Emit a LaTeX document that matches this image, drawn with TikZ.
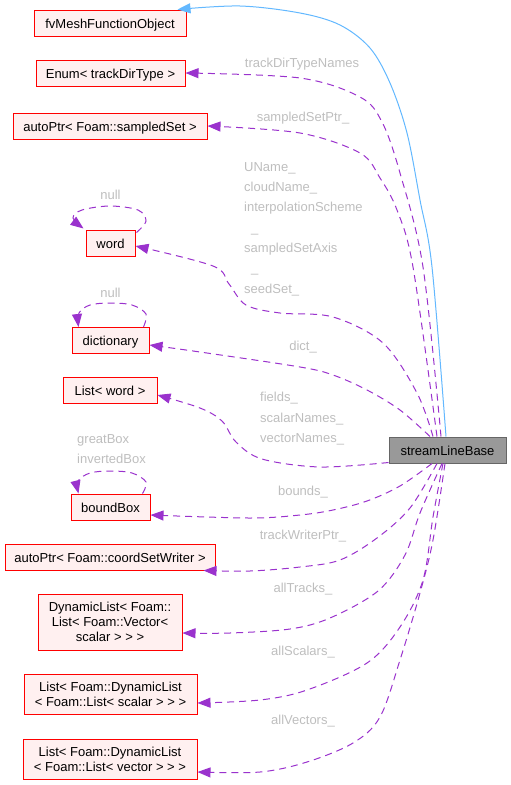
\documentclass[tikz,border=0pt]{standalone}
\usepackage{fontspec}
\setmainfont{Liberation Sans}
\usetikzlibrary{arrows.meta}
\definecolor{edgepurple}{HTML}{9A32CD}
\definecolor{inhblue}{HTML}{63B8FF}
\definecolor{lblgray}{HTML}{BEBEBE}
\definecolor{boxfill}{HTML}{FFF0F0}
\definecolor{boxred}{HTML}{FF0000}
\definecolor{mainfill}{HTML}{999999}
\definecolor{mainborder}{HTML}{666666}
\begin{document}
\begin{tikzpicture}[x=1pt,y=-1pt,
  cls/.style={draw=boxred, fill=boxfill, line width=1pt, inner sep=0pt,
    font=\fontsize{13}{15}\selectfont, align=center, minimum height=26pt},
  one/.style={text height=10pt, text depth=0pt},
  mainbox/.style={draw=mainborder, fill=mainfill, line width=1pt, inner sep=0pt,
    font=\fontsize{13}{15}\selectfont, minimum height=26pt},
  member/.style={edgepurple, line width=1pt, dash pattern=on 7pt off 5pt,
    -{Triangle[length=13pt,width=10pt]}},
  inherit/.style={inhblue, line width=1pt, -{Triangle[length=13pt,width=10pt]}},
  lbl/.style={text=lblgray, font=\fontsize{13}{20.3}\selectfont, inner sep=0pt},
  sm/.style={smooth, tension=0.55},
]
\useasboundingbox (0,0) rectangle (511,785);

% class nodes
\node[cls,one,minimum width=152pt] (fv)   at (110,23)    {fvMeshFunctionObject};
\node[cls,one,minimum width=149pt] (enum) at (110.5,73)  {Enum< trackDirType >};
\node[cls,one,minimum width=194pt] (ssp)  at (110,126)   {autoPtr< Foam::sampledSet >};
\node[cls,one,minimum width=49pt]  (word) at (110.5,243) {word};
\node[cls,one,minimum width=77pt]  (dict) at (110.5,340.5) {dictionary};
\node[cls,one,minimum width=94pt]  (lw)   at (110,390)   {List< word >};
\node[cls,one,minimum width=79pt]  (bb)   at (110.5,507) {boundBox};
\node[cls,one,minimum width=210pt] (csw)  at (110,557)   {autoPtr< Foam::coordSetWriter >};
\node[cls,minimum width=144pt,minimum height=56pt] (dyn) at (110,622)
  {DynamicList< Foam::\\List< Foam::Vector<\\scalar > > >};
\node[cls,minimum width=173pt,minimum height=40pt] (lsc) at (110.5,694)
  {List< Foam::DynamicList\\< Foam::List< scalar > > >};
\node[cls,minimum width=174pt,minimum height=40pt] (lvec) at (110,759)
  {List< Foam::DynamicList\\< Foam::List< vector > > >};
\node[mainbox,one,minimum width=117pt] (slb) at (447.5,450) {streamLineBase};

% inheritance
\draw[inherit] plot[sm] coordinates {([xshift=-1.5pt]slb.north) (432,267) (420,200) (407,133)
  (390,83) (370,48) (340,25) (300,13) (240,6) ([xshift=-9pt]fv.north east)};

% members above
\draw[member] plot[sm] coordinates {([xshift=-6.5pt]slb.north) (423,267) (400,173) (382,122)
  (360,97) (300,78) (enum.east)};
\draw[member] plot[sm] coordinates {([xshift=-10.5pt]slb.north) (413,267) (397,210) (380,178)
  (360,153) (300,133) (ssp.east)};
\draw[member] plot[sm] coordinates {([xshift=-14.5pt]slb.north) (417,393) (383,343)
  (333,317) (280,313) (246,305) (229,284) (213,266) ([yshift=-3pt]word.east)};
\draw[member] plot[sm] coordinates {([xshift=-17.5pt]slb.north) (400,410) (367,390) (333,375)
  (300,367) (200,352) ([yshift=-4.5pt]dict.east)};
\draw[member] plot[sm] coordinates {([yshift=1pt]slb.south west) (320,467) (262,459)
  (236,442) (222,421) (200,408) ([yshift=-5pt]lw.east)};

% members below
\draw[member] plot[sm] coordinates {([xshift=-15.5pt]slb.south) (400,486) (367,501) (333,510)
  (300,515) (250,518) ([yshift=-8pt]bb.east)};
\draw[member] plot[sm] coordinates {([xshift=-10.5pt]slb.south) (410,508) (377,538) (340,560)
  (300,567) (250,571) ([xshift=-12pt]csw.south east)};
\draw[member] plot[sm] coordinates {([xshift=-5.5pt]slb.south) (420,513) (405,555) (378,591)
  (330,618) (290,629) (230,633) ([yshift=-11pt]dyn.east)};
\draw[member] plot[sm] coordinates {([xshift=-4.5pt]slb.south) (433,517) (423,580) (400,627)
  (367,663) (307,690) (260,700) ([yshift=-9pt]lsc.east)};
\draw[member] plot[sm] coordinates {([xshift=-2.5pt]slb.south) (433,540) (420,593) (400,660)
  (380,717) (353,743) (307,762) (260,772) ([yshift=-13pt]lvec.east)};

% self loops
\draw[member] plot[sm] coordinates {([xshift=1pt,yshift=-3pt]word.north east) (146,221) (138,210)
  (110,206) (82,210) (73,218) ([xshift=-2pt,yshift=1pt]word.north west)};
\draw[member] plot[sm] coordinates {([xshift=-6pt]dict.north east) (146,314) (132,305)
  (110,303) (90,305) (79,313) ([xshift=7pt]dict.north west)};
\draw[member] plot[sm] coordinates {([xshift=-8pt]bb.north east) (146,482) (132,473)
  (110,471) (90,473) (78,481) ([xshift=8pt]bb.north west)};

% labels
\node[lbl,anchor=base] (l1) at (302,67.7) {trackDirTypeNames};
\node[lbl,anchor=base] (l2) at (303,121.7) {sampledSetPtr\_};
\node[lbl,anchor=north west,align=left] (l3) at (244,162.2)
  {UName\_\\cloudName\_\\interpolationScheme\\\hspace*{7pt}\_\\sampledSetAxis\\\hspace*{7pt}\_\\seedSet\_};
\node[lbl,anchor=base] (l4) at (110.5,199.7) {null};
\node[lbl,anchor=base] (l5) at (110.5,297.7) {null};
\node[lbl,anchor=base] (l6) at (303,350.7) {dict\_};
\node[lbl,anchor=north west,align=left] (l7) at (260,392.2)
  {fields\_\\scalarNames\_\\vectorNames\_};
\node[lbl,anchor=north west,align=left] (l8) at (77,434.2) {greatBox\\invertedBox};
\node[lbl,anchor=base] (l9) at (303,495.7) {bounds\_};
\node[lbl,anchor=base] (l10) at (303,539.7) {trackWriterPtr\_};
\node[lbl,anchor=base] (l11) at (303,592.7) {allTracks\_};
\node[lbl,anchor=base] (l12) at (303,655.7) {allScalars\_};
\node[lbl,anchor=base] (l13) at (303,724.7) {allVectors\_};
\end{tikzpicture}
\end{document}
